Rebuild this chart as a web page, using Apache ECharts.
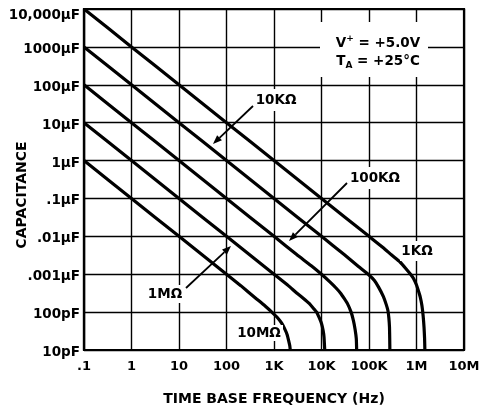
<!DOCTYPE html>
<html>
<head>
<meta charset="utf-8">
<script src="https://cdn.jsdelivr.net/npm/echarts@6/dist/echarts.min.js"></script>
<style>html,body{margin:0;padding:0;background:#fff}#c{width:479px;height:408px}</style>
</head>
<body>
<div id="c"></div>
<script>
// Tick labels
const freqTicks = ['.1', '1', '10', '100', '1K', '10K', '100K', '1M', '10M'];
const capTicks = ['10pF', '100pF', '.001µF', '.01µF', '.1µF', '1µF', '10µF', '100µF', '1000µF', '10,000µF'];
// Curves: [frequency Hz, capacitance µF]
const r1K = [[0.1, 1e4], [1, 1e3], [10, 100], [100, 10], [1e3, 1], [1e4, 0.1], [1e5, 1e-2], [2e5, 5e-3], [3e5, 3.2e-3], [4.5e5, 2.1e-3], [6e5, 1.4e-3], [7.5e5, 1e-3], [8.6e5, 7.8e-4], [1e6, 5.2e-4], [1.1e6, 3.6e-4], [1.2e6, 2.5e-4], [1.3e6, 1.5e-4], [1.38e6, 8e-5], [1.44e6, 4e-5], [1.48e6, 2e-5], [1.5e6, 1e-5]];
const r10K = [[0.1, 1e3], [1, 100], [10, 10], [100, 1], [1e3, 0.1], [1e4, 1e-2], [3e4, 3.3e-3], [6e4, 1.6e-3], [1e5, 9.5e-4], [1.3e5, 6.8e-4], [1.6e5, 4.5e-4], [2e5, 2.6e-4], [2.3e5, 1.6e-4], [2.5e5, 1.1e-4], [2.62e5, 7e-5], [2.7e5, 4e-5], [2.73e5, 2e-5], [2.75e5, 1e-5]];
const r100K = [[0.1, 100], [1, 10], [10, 1], [100, 0.1], [1e3, 1e-2], [3e3, 3.3e-3], [6e3, 1.7e-3], [1e4, 1e-3], [1.5e4, 6.3e-4], [2e4, 4.4e-4], [2.5e4, 3.2e-4], [3e4, 2.3e-4], [3.5e4, 1.7e-4], [4.2e4, 1e-4], [4.7e4, 6e-5], [5.1e4, 3.5e-5], [5.4e4, 2e-5], [5.5e4, 1e-5]];
const r1M = [[0.1, 10], [1, 1], [10, 0.1], [100, 1e-2], [1e3, 1e-3], [2e3, 5e-4], [3e3, 3.2e-4], [4e3, 2.4e-4], [5.5e3, 1.7e-4], [7e3, 1.2e-4], [7.9e3, 1e-4], [9e3, 7e-5], [1e4, 5e-5], [1.08e4, 3.3e-5], [1.13e4, 2.2e-5], [1.17e4, 1e-5]];
const r10M = [[0.1, 1], [1, 0.1], [10, 1e-2], [100, 1e-3], [200, 5e-4], [400, 2.4e-4], [650, 1.45e-4], [900, 1e-4], [1200, 7e-5], [1450, 5.1e-5], [1700, 3.5e-5], [1900, 2.5e-5], [2050, 1.7e-5], [2150, 1.3e-5], [2200, 1e-5]];
const curveNames = ['1KΩ', '10KΩ', '100KΩ', '1MΩ', '10MΩ'];
const curves = [r1K, r10K, r100K, r1M, r10M];

const FONT = 'DejaVu Sans';
const chart = echarts.init(document.getElementById('c'), null, {renderer: 'canvas'});

function arrow(x1, y1, x2, y2) {
  const a = Math.atan2(y2 - y1, x2 - x1), L = 9, W = 3.5;
  const bx = x2 - L * Math.cos(a), by = y2 - L * Math.sin(a);
  return [
    {type: 'line', z: 20, shape: {x1: x1, y1: y1, x2: bx, y2: by}, style: {stroke: '#000', lineWidth: 1.8}},
    {type: 'polygon', z: 20, shape: {points: [[x2, y2], [bx - W * Math.sin(a), by + W * Math.cos(a)], [bx + W * Math.sin(a), by - W * Math.cos(a)]]}, style: {fill: '#000'}}
  ];
}
function label(text, cx, cy, w, h) {
  return [
    {type: 'rect', z: 19, shape: {x: cx - w / 2, y: cy - h / 2, width: w, height: h}, style: {fill: '#fff'}},
    {type: 'text', z: 21, x: cx, y: cy, style: {text: text, font: 'bold 13.5px ' + FONT, fill: '#000', align: 'center', verticalAlign: 'middle'}}
  ];
}

const graphics = [].concat(
  [{type: 'rect', z: 19, shape: {x: 320, y: 22, width: 108, height: 55}, style: {fill: '#fff'}},
   {type: 'text', z: 21, x: 378, y: 42, style: {
     text: '{n|V}{sup|+}{n| = +5.0V}', align: 'center', verticalAlign: 'middle',
     rich: {n: {font: 'bold 13.5px ' + FONT, fill: '#000', verticalAlign: 'bottom', lineHeight: 16},
            sup: {font: 'bold 9px ' + FONT, fill: '#000', verticalAlign: 'top', lineHeight: 16}}}},
   {type: 'text', z: 21, x: 378, y: 62, style: {
     text: '{n|T}{sub|A}{n| = +25°C}', align: 'center', verticalAlign: 'middle',
     rich: {n: {font: 'bold 13.5px ' + FONT, fill: '#000', verticalAlign: 'top', lineHeight: 16},
            sub: {font: 'bold 9px ' + FONT, fill: '#000', verticalAlign: 'bottom', lineHeight: 16}}}},
   {type: 'text', z: 21, x: 22, y: 195, rotation: Math.PI / 2, style: {
     text: 'CAPACITANCE', font: 'bold 14px ' + FONT, fill: '#000', align: 'center', verticalAlign: 'middle'}}],
  label('10KΩ', 276, 100, 48, 22), arrow(253, 106, 213, 144),
  label('100KΩ', 375, 178, 56, 22), arrow(347, 183, 289, 241),
  label('1MΩ', 165, 294, 40, 18), arrow(186, 288, 231, 246),
  label('1KΩ', 417, 251, 34, 20),
  label('10MΩ', 259, 333, 48, 16)
);

chart.setOption({
  animation: false,
  backgroundColor: '#fff',
  grid: {left: 84, top: 9, right: 15, bottom: 58, show: true, borderColor: '#000', borderWidth: 2.2, outerBoundsMode: 'none', containLabel: false},
  xAxis: {
    type: 'log', logBase: 10, min: 0.1, max: 1e7, splitNumber: 10,
    name: 'TIME BASE FREQUENCY (Hz)', nameLocation: 'middle', nameGap: 42,
    nameTextStyle: {fontFamily: FONT, fontWeight: 'bold', fontSize: 14, color: '#000'},
    axisLine: {lineStyle: {color: '#000', width: 2.2}},
    axisTick: {show: false}, minorTick: {show: false},
    splitLine: {show: true, lineStyle: {color: '#000', width: 1.4}},
    axisLabel: {color: '#000', fontFamily: FONT, fontWeight: 'bold', fontSize: 13, margin: 10,
      formatter: v => freqTicks[Math.round(Math.log10(v)) + 1]}
  },
  yAxis: {
    type: 'log', logBase: 10, min: 1e-5, max: 1e4, splitNumber: 10,
    axisLine: {lineStyle: {color: '#000', width: 2.2}},
    axisTick: {show: false}, minorTick: {show: false},
    splitLine: {show: true, lineStyle: {color: '#000', width: 1.4}},
    axisLabel: {color: '#000', fontFamily: FONT, fontWeight: 'bold', fontSize: 13.5, margin: 4,
      formatter: v => {
        const i = Math.round(Math.log10(v)) + 5;
        return i === 9 ? '{t|' + capTicks[i] + '}' : '{m|' + capTicks[i] + '}';
      },
      rich: {t: {fontFamily: FONT, fontWeight: 'bold', fontSize: 13.5, color: '#000', padding: [12, 0, 0, 0]},
             m: {fontFamily: FONT, fontWeight: 'bold', fontSize: 13.5, color: '#000', padding: [5, 0, 0, 0]}}}
  },
  series: curves.map((d, i) => ({
    name: curveNames[i], type: 'line', data: d, showSymbol: false, symbol: 'none',
    smooth: 0.15, clip: true,
    lineStyle: {color: '#000', width: 3.2, join: 'round'}, z: 5
  })),
  graphic: graphics
});
</script>
</body>
</html>
